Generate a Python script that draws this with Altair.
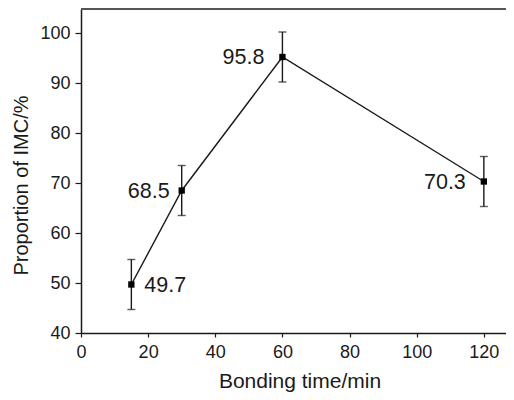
import altair as alt
import pandas as pd

# ---- data ----
time_min = [15, 30, 60, 120]
imc_pct = [49.7, 68.5, 95.2, 70.3]
err = [5.0, 5.0, 5.0, 5.0]
label_text = ["49.7", "68.5", "95.8", "70.3"]

x_major = [0, 20, 40, 60, 80, 100, 120]
x_minor = [10, 30, 50, 70, 90, 110]
y_major = [40, 50, 60, 70, 80, 90, 100]
y_minor = [45, 55, 65, 75, 85, 95]

df = pd.DataFrame({
    "t": time_min,
    "p": imc_pct,
    "lo": [p - e for p, e in zip(imc_pct, err)],
    "hi": [p + e for p, e in zip(imc_pct, err)],
    "label": label_text,
})

FONT = "Liberation Sans"
INK = "#1a1a1a"
W, H = 425, 324

xs = alt.Scale(domain=[0, 126.6], nice=False, zero=False)
ys = alt.Scale(domain=[40, 104.8], nice=False, zero=False)

x_axis = alt.Axis(
    values=x_major + x_minor,
    labelExpr="datum.value % 20 === 0 ? datum.label : ''",
    labelFlush=False, labelOverlap=False,
    tickSize=4, tickColor=INK, tickWidth=1.2,
    domainColor=INK, domainWidth=1.5,
    labelPadding=6, labelFontSize=18, labelColor=INK, labelFont=FONT,
    grid=False,
    title="Bonding time/min", titleFont=FONT, titleFontSize=21,
    titleFontWeight="normal", titleColor=INK,
    titleX=218.5, titleY=54, titleBaseline="alphabetic",
)
y_axis = alt.Axis(
    values=y_major + y_minor,
    labelExpr="datum.value % 10 === 0 ? datum.label : ''",
    labelFlush=False, labelOverlap=False,
    tickSize=6, tickColor=INK, tickWidth=1.2,
    domainColor=INK, domainWidth=1.5,
    labelPadding=5, labelFontSize=18, labelColor=INK, labelFont=FONT,
    grid=False,
    title="Proportion of IMC/%", titleFont=FONT, titleFontSize=20,
    titleFontWeight="normal", titleColor=INK,
    titleX=-54, titleY=176, titleBaseline="alphabetic", titleAngle=270,
)

base = alt.Chart(df)
X = alt.X("t:Q", scale=xs, axis=x_axis)
Y = alt.Y("p:Q", scale=ys, axis=y_axis)

line = base.mark_line(color=INK, strokeWidth=1.4).encode(x=X, y=Y)
bars = base.mark_rule(color=INK, strokeWidth=1.4).encode(
    x=alt.X("t:Q", scale=xs), y=alt.Y("lo:Q", scale=ys), y2="hi:Q")
cap_lo = base.mark_tick(color=INK, orient="horizontal", size=8, thickness=1.4).encode(
    x=alt.X("t:Q", scale=xs), y=alt.Y("lo:Q", scale=ys))
cap_hi = base.mark_tick(color=INK, orient="horizontal", size=8, thickness=1.4).encode(
    x=alt.X("t:Q", scale=xs), y=alt.Y("hi:Q", scale=ys))
pts = base.mark_square(color="black", size=40, opacity=1).encode(
    x=alt.X("t:Q", scale=xs), y=alt.Y("p:Q", scale=ys))

def lab(filter_expr, align, dx):
    return base.transform_filter(filter_expr).mark_text(
        align=align, baseline="middle", dx=dx, dy=1,
        font=FONT, fontSize=21.5, color=INK,
    ).encode(x=alt.X("t:Q", scale=xs), y=alt.Y("p:Q", scale=ys), text="label:N")

lab_right = lab("datum.t == 15", "left", 13)
lab_near = lab("datum.t == 30", "right", -12)
lab_far = lab("datum.t >= 60", "right", -18)

top_border = alt.Chart(alt.Data(values=[{}])).mark_rule(color="#555", strokeWidth=2).encode(
    x=alt.value(0), x2=alt.value(W), y=alt.value(0))

chart = alt.layer(
    top_border, line, bars, cap_lo, cap_hi, pts, lab_right, lab_near, lab_far
).properties(
    width=W, height=H,
    autosize=alt.AutoSizeParams(type="none"),
    padding={"left": 73, "top": 1, "right": 0, "bottom": 59},
    background="white",
).configure_view(stroke=None)

chart.save("out.html", embed_options={"renderer": "svg", "actions": False})
